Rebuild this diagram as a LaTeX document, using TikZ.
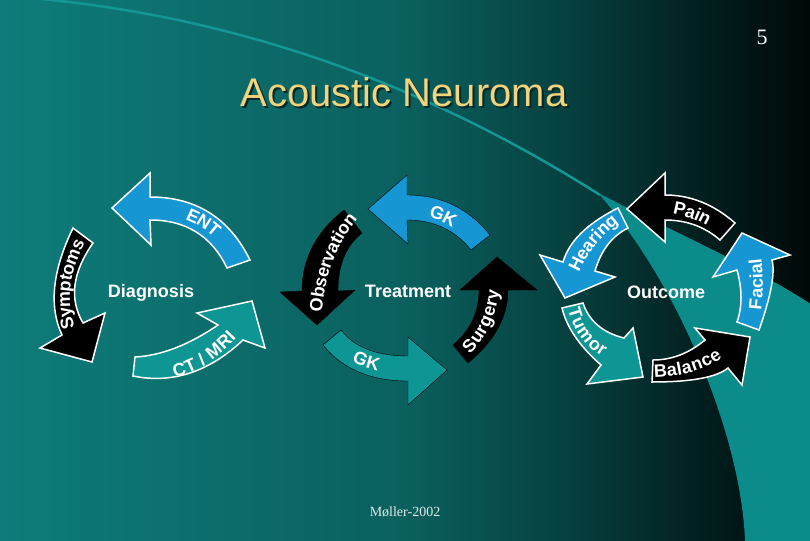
\documentclass[tikz,border=0pt]{standalone}
\usepackage{fontspec}
\setmainfont{Liberation Sans}
\newfontfamily\timesf{Liberation Serif}
\usetikzlibrary{calc,decorations.text}
\definecolor{bgA}{RGB}{14,124,122}
\definecolor{bgB}{RGB}{10,96,94}
\definecolor{bgC}{RGB}{6,68,67}
\definecolor{bgD}{RGB}{2,32,32}
\definecolor{bgE}{RGB}{0,8,8}
\definecolor{bandc}{RGB}{11,139,137}
\definecolor{linec}{RGB}{20,150,148}
\definecolor{arrowblue}{RGB}{22,150,210}
\definecolor{arrowteal}{RGB}{14,150,148}
\definecolor{titlegold}{RGB}{243,211,123}
\definecolor{shadowc}{RGB}{4,40,40}
\definecolor{mollerc}{RGB}{225,235,235}
\pgfdeclarehorizontalshading{bgshade}{100bp}{color(0bp)=(bgA); color(25bp)=(bgA); color(50bp)=(bgB); color(59bp)=(bgC); color(68bp)=(bgD); color(75bp)=(bgE); color(100bp)=(bgE)}
\newcommand\lab{\color{white}\bfseries\fontsize{18}{20}\selectfont}
\newcommand\drawarrow[2]{%
  \draw[#1] (#2-to) .. controls ($(#2-to)!0.6667!(#2-po)$) and ($(#2-ho)!0.6667!(#2-po)$) .. (#2-ho)
    -- (#2-hho) -- (#2-tip) -- (#2-hhi) -- (#2-hi)
    .. controls ($(#2-hi)!0.6667!(#2-pi)$) and ($(#2-ti)!0.6667!(#2-pi)$) .. (#2-ti) -- cycle;}
\newcommand\arrowtext[2]{%
  \path[decorate,decoration={text along path,text={|\lab|#2},text align=center,raise=-5.5pt}]
    (#1-a) .. controls ($(#1-a)!0.6667!(#1-b)$) and ($(#1-c)!0.6667!(#1-b)$) .. (#1-c);}
\begin{document}
\begin{tikzpicture}[x=1pt,y=-1pt,
  labnode/.style={text=white,font=\bfseries\fontsize{18}{20}\selectfont,anchor=base,inner sep=0pt},
  outlined/.style={draw=white,line width=1.5pt,line join=miter},
  bluefill/.style={fill=arrowblue},
  tealfill/.style={fill=arrowteal},
  blackfill/.style={fill=black}]
\useasboundingbox (0,0) rectangle (810,540);
% background
\shade[shading=bgshade] (0,0) rectangle (810,540);
\draw[linec,line width=2.5pt] (-10,-5) .. controls (250,10) and (450,100) .. (600,195);
\fill[bandc] (598,193) .. controls (680,235) and (760,270) .. (812,305) -- (812,542) -- (745,542)
  .. controls (742,440) and (680,285) .. (598,193) -- cycle;
% title and captions
\node[font=\fontsize{40}{44}\selectfont,text=shadowc,anchor=base,inner sep=0pt] (titleshadow) at (406,109) {Acoustic Neuroma};
\node[font=\fontsize{40}{44}\selectfont,text=titlegold,anchor=base,inner sep=0pt] (title) at (404,107) {Acoustic Neuroma};
\node[font=\timesf\fontsize{22}{24}\selectfont,text=white,anchor=base,inner sep=0pt] (pagenum) at (762,45) {5};
\node[font=\timesf\fontsize{14}{16}\selectfont,text=mollerc,anchor=base,inner sep=0pt] (author) at (405,516) {Møller-2002};
\node[labnode] (diag) at (151,297) {Diagnosis};
\node[labnode] (treat) at (408,297) {Treatment};
\node[labnode] (outc) at (666,298) {Outcome};
% ---------- coordinates ----------
% ENT
\coordinate (ent-to) at (250,260); \coordinate (ent-po) at (219,197); \coordinate (ent-ho) at (150,197);
\coordinate (ent-hho) at (150,173); \coordinate (ent-tip) at (112,208); \coordinate (ent-hhi) at (151,245);
\coordinate (ent-hi) at (150,220); \coordinate (ent-pi) at (204,220); \coordinate (ent-ti) at (227,268);
\coordinate (ent-a) at (150,208); \coordinate (ent-b) at (211,208); \coordinate (ent-c) at (240,264);
% Symptoms
\coordinate (sym-to) at (73,228); \coordinate (sym-po) at (42,292); \coordinate (sym-ho) at (62,335);
\coordinate (sym-hho) at (40,348); \coordinate (sym-tip) at (92,362); \coordinate (sym-hhi) at (105,313);
\coordinate (sym-hi) at (83,323); \coordinate (sym-pi) at (62,287); \coordinate (sym-ti) at (93,243);
\coordinate (sym-a) at (74,340); \coordinate (sym-b) at (50,289); \coordinate (sym-c) at (86,230);
% CT/MRI
\coordinate (ct-to) at (133,376); \coordinate (ct-po) at (192,388); \coordinate (ct-ho) at (243,340);
\coordinate (ct-hho) at (265,348); \coordinate (ct-tip) at (252,301); \coordinate (ct-hhi) at (197,313);
\coordinate (ct-hi) at (218,325); \coordinate (ct-pi) at (174,355); \coordinate (ct-ti) at (135,357);
\coordinate (ct-a) at (165,373); \coordinate (ct-b) at (200,372); \coordinate (ct-c) at (238,328);
% Observation
\coordinate (obs-to) at (344,210); \coordinate (obs-po) at (302,243); \coordinate (obs-ho) at (302,291);
\coordinate (obs-hho) at (280,292); \coordinate (obs-tip) at (317,325); \coordinate (obs-hhi) at (355,290);
\coordinate (obs-hi) at (338,291); \coordinate (obs-pi) at (338,252); \coordinate (obs-ti) at (362,233);
\coordinate (obs-a) at (316,322); \coordinate (obs-b) at (318,252); \coordinate (obs-c) at (360,208);
% GK top
\coordinate (gkt-to) at (490,235); \coordinate (gkt-po) at (458,195); \coordinate (gkt-ho) at (407,195);
\coordinate (gkt-hho) at (407,175); \coordinate (gkt-tip) at (368,209); \coordinate (gkt-hhi) at (408,244);
\coordinate (gkt-hi) at (407,220); \coordinate (gkt-pi) at (447,220); \coordinate (gkt-ti) at (471,250);
\coordinate (gkt-a) at (400,208); \coordinate (gkt-b) at (448,208); \coordinate (gkt-c) at (478,243);
% GK bottom
\coordinate (gkb-to) at (323,345); \coordinate (gkb-po) at (352,381); \coordinate (gkb-ho) at (408,381);
\coordinate (gkb-hho) at (408,405); \coordinate (gkb-tip) at (447,370); \coordinate (gkb-hhi) at (408,337);
\coordinate (gkb-hi) at (408,356); \coordinate (gkb-pi) at (361,356); \coordinate (gkb-ti) at (341,330);
\coordinate (gkb-a) at (332,338); \coordinate (gkb-b) at (356,368); \coordinate (gkb-c) at (408,369);
% Surgery
\coordinate (sur-to) at (468,363); \coordinate (sur-po) at (508,330); \coordinate (sur-ho) at (508,290);
\coordinate (sur-hho) at (537,290); \coordinate (sur-tip) at (497,257); \coordinate (sur-hhi) at (460,290);
\coordinate (sur-hi) at (479,290); \coordinate (sur-pi) at (479,323); \coordinate (sur-ti) at (453,345);
\coordinate (sur-a) at (460,356); \coordinate (sur-b) at (493,327); \coordinate (sur-c) at (494,282);
% Hearing
\coordinate (hea-to) at (618,208); \coordinate (hea-po) at (572,231); \coordinate (hea-ho) at (563,262);
\coordinate (hea-hho) at (540,255); \coordinate (hea-tip) at (565,298); \coordinate (hea-hhi) at (615,277);
\coordinate (hea-hi) at (595,271); \coordinate (hea-pi) at (604,240); \coordinate (hea-ti) at (628,228);
\coordinate (hea-a) at (572,275); \coordinate (hea-b) at (585,240); \coordinate (hea-c) at (620,215);
% Pain
\coordinate (pai-to) at (735,223); \coordinate (pai-po) at (703,195); \coordinate (pai-ho) at (665,195);
\coordinate (pai-hho) at (665,173); \coordinate (pai-tip) at (627,209); \coordinate (pai-hhi) at (665,242);
\coordinate (pai-hi) at (665,220); \coordinate (pai-pi) at (697,220); \coordinate (pai-ti) at (720,240);
\coordinate (pai-a) at (655,207); \coordinate (pai-b) at (695,207); \coordinate (pai-c) at (725,232);
% Facial
\coordinate (fac-to) at (759,330); \coordinate (fac-po) at (777,279); \coordinate (fac-ho) at (772,260);
\coordinate (fac-hho) at (790,255); \coordinate (fac-tip) at (742,233); \coordinate (fac-hhi) at (713,277);
\coordinate (fac-hi) at (737,270); \coordinate (fac-pi) at (745,299); \coordinate (fac-ti) at (737,322);
\coordinate (fac-a) at (752,328); \coordinate (fac-b) at (762,290); \coordinate (fac-c) at (753,240);
% Balance
\coordinate (bal-to) at (652,382); \coordinate (bal-po) at (711,382); \coordinate (bal-ho) at (728,368);
\coordinate (bal-hho) at (742,385); \coordinate (bal-tip) at (750,337); \coordinate (bal-hhi) at (695,328);
\coordinate (bal-hi) at (705,340); \coordinate (bal-pi) at (681,360); \coordinate (bal-ti) at (653,360);
\coordinate (bal-a) at (645,372); \coordinate (bal-b) at (700,373); \coordinate (bal-c) at (726,347);
% Tumor
\coordinate (tum-to) at (562,308); \coordinate (tum-po) at (569,337); \coordinate (tum-ho) at (601,365);
\coordinate (tum-hho) at (587,384); \coordinate (tum-tip) at (643,377); \coordinate (tum-hhi) at (633,328);
\coordinate (tum-hi) at (624,338); \coordinate (tum-pi) at (592,330); \coordinate (tum-ti) at (583,303);
\coordinate (tum-a) at (572,300); \coordinate (tum-b) at (578,340); \coordinate (tum-c) at (612,355);
% ---------- arrows ----------
\drawarrow{bluefill,outlined}{ent}
\drawarrow{blackfill,outlined}{sym}
\drawarrow{tealfill,outlined}{ct}
\drawarrow{blackfill}{obs}
\drawarrow{bluefill}{gkt}
\drawarrow{tealfill}{gkb}
\drawarrow{blackfill}{sur}
\drawarrow{bluefill,outlined}{hea}
\drawarrow{blackfill,outlined}{pai}
\drawarrow{bluefill,outlined}{fac}
\drawarrow{blackfill,outlined}{bal}
\drawarrow{tealfill,outlined}{tum}
% ---------- labels on arrows ----------
\arrowtext{ent}{ENT}
\arrowtext{sym}{Symptoms}
\arrowtext{ct}{CT / MRI}
\arrowtext{obs}{Observation}
\arrowtext{gkt}{GK}
\arrowtext{gkb}{GK}
\arrowtext{sur}{Surgery}
\arrowtext{hea}{Hearing}
\arrowtext{pai}{Pain}
\arrowtext{fac}{Facial}
\arrowtext{bal}{Balance}
\arrowtext{tum}{Tumor}
\end{tikzpicture}
\end{document}
